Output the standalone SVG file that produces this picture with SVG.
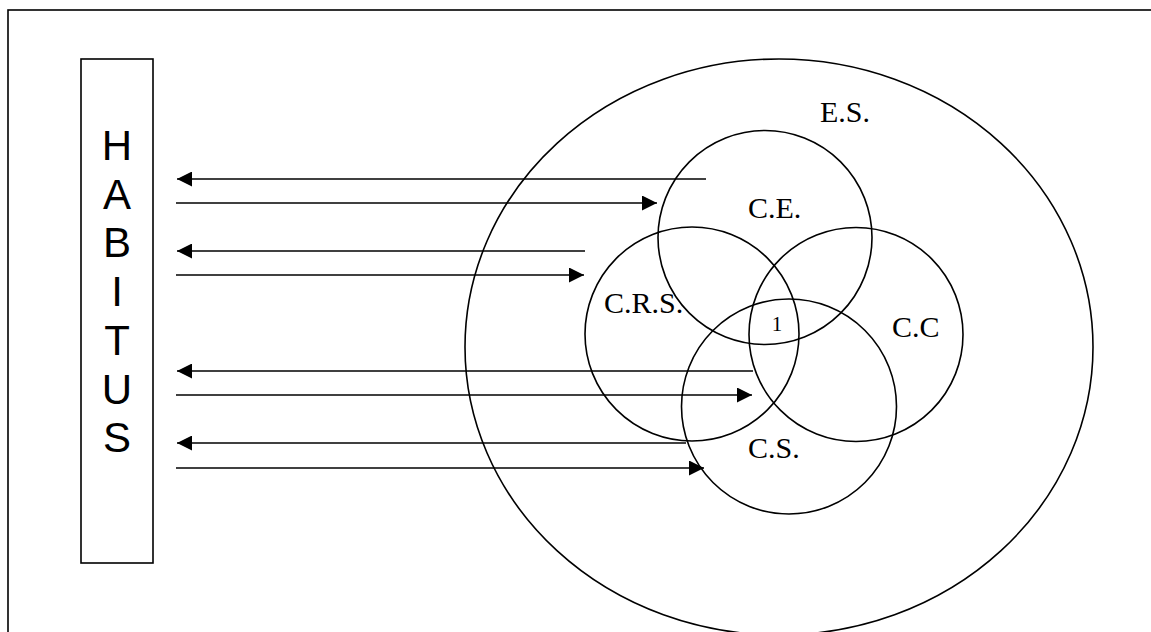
<svg xmlns="http://www.w3.org/2000/svg" width="1151" height="632" viewBox="0 0 1151 632">
<style>
.ln{stroke:#000;stroke-width:1.6;fill:none}
.hab{font-family:"Liberation Sans",Arial,sans-serif;font-size:42px;text-anchor:middle;fill:#000}
.lbl{font-family:"Liberation Serif","Times New Roman",serif;font-size:30px;fill:#000}
</style>
<defs>
<marker id="ah" viewBox="0 0 15 15" refX="15" refY="7.5" markerWidth="15" markerHeight="15" markerUnits="userSpaceOnUse" orient="auto">
<path d="M0,0 L15,7.5 L0,15 Z" fill="#000"/>
</marker>
</defs>
<rect width="1151" height="632" fill="#fff"/>
<rect x="8" y="10" width="1300" height="800" class="ln"/>
<g id="habitus">
<rect x="81" y="59" width="72" height="504" class="ln"/>
<text class="hab" x="117" y="160">H</text>
<text class="hab" x="117" y="208.7">A</text>
<text class="hab" x="117" y="257.4">B</text>
<text class="hab" x="117" y="306">I</text>
<text class="hab" x="117" y="355">T</text>
<text class="hab" x="117" y="403.5">U</text>
<text class="hab" x="117" y="452">S</text>
</g>
<g id="es">
<ellipse cx="779" cy="347" rx="314" ry="288" class="ln"/>
<text class="lbl" x="820" y="122">E.S.</text>
</g>
<g id="ce">
<circle cx="765" cy="237.5" r="107" class="ln"/>
<text class="lbl" x="748" y="218">C.E.</text>
</g>
<g id="crs">
<circle cx="692" cy="334" r="107" class="ln"/>
<text class="lbl" x="604" y="313">C.R.S.</text>
</g>
<g id="cc">
<circle cx="856" cy="334.5" r="107" class="ln"/>
<text class="lbl" x="892" y="337">C.C</text>
</g>
<g id="cs">
<circle cx="789" cy="406.5" r="107.5" class="ln"/>
<text class="lbl" x="748" y="458">C.S.</text>
</g>
<g id="core">
<text x="777" y="331" style="font-family:'Liberation Serif','Times New Roman',serif;font-size:21px;text-anchor:middle;fill:#000">1</text>
</g>
<g id="connectors" class="ln">
<line x1="706" y1="179" x2="177" y2="179" marker-end="url(#ah)"/>
<line x1="176" y1="203" x2="657" y2="203" marker-end="url(#ah)"/>
<line x1="585" y1="251" x2="177" y2="251" marker-end="url(#ah)"/>
<line x1="176" y1="275" x2="584" y2="275" marker-end="url(#ah)"/>
<line x1="753" y1="371" x2="177" y2="371" marker-end="url(#ah)"/>
<line x1="176" y1="395" x2="752" y2="395" marker-end="url(#ah)"/>
<line x1="686" y1="443" x2="177" y2="443" marker-end="url(#ah)"/>
<line x1="176" y1="468" x2="704" y2="468" marker-end="url(#ah)"/>
</g>
</svg>
